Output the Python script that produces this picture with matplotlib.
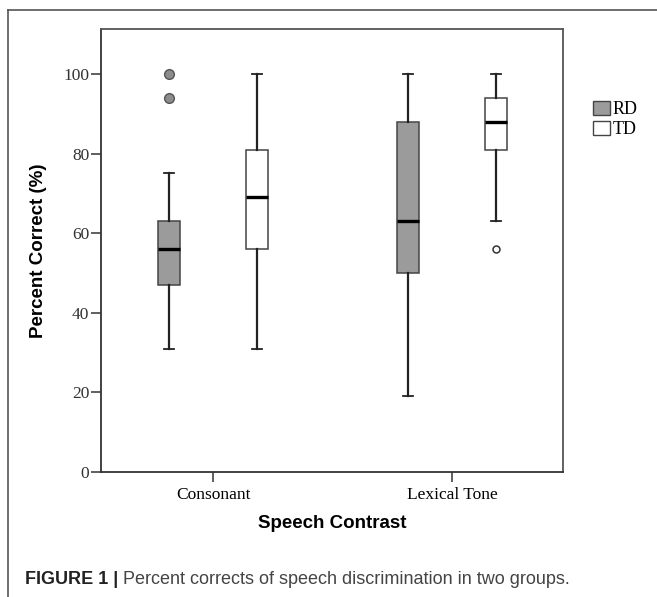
import matplotlib
matplotlib.use('Agg')
import matplotlib.pyplot as plt
from matplotlib.lines import Line2D
from matplotlib.patches import Patch

# values (percent correct)
contrasts = ['Consonant', 'Lexical Tone']
groups = ['RD', 'TD']
colors = {'RD': '#9b9b9b', 'TD': 'white'}

# per group: [consonant, lexical tone]
whislo = {'RD': [31, 19], 'TD': [31, 63]}
q1 = {'RD': [47, 50], 'TD': [56, 81]}
med = {'RD': [56, 63], 'TD': [69, 88]}
q3 = {'RD': [63, 88], 'TD': [81, 94]}
whishi = {'RD': [75, 100], 'TD': [100, 100]}
fliers = {'RD': [[100, 94], []], 'TD': [[], [56]]}

yticks = [0, 20, 40, 60, 80, 100]

fig = plt.figure(figsize=(6.57, 5.97), dpi=100)
ax = fig.add_axes([0.1537, 0.2094, 0.7032, 0.742])

offset = {'RD': -0.184, 'TD': 0.184}
edge = '#222222'
for g in groups:
    stats = []
    for i in range(len(contrasts)):
        stats.append(dict(whislo=whislo[g][i], q1=q1[g][i], med=med[g][i],
                          q3=q3[g][i], whishi=whishi[g][i], fliers=fliers[g][i]))
    pos = [i + offset[g] for i in range(len(contrasts))]
    if g == 'RD':
        fp = dict(marker='o', markerfacecolor='#8c8c8c', markeredgecolor='#555555',
                  markersize=7, markeredgewidth=1)
    else:
        fp = dict(marker='o', markerfacecolor='white', markeredgecolor='#333333',
                  markersize=5, markeredgewidth=1.1)
    ax.bxp(stats, positions=pos, widths=0.092, patch_artist=True,
           boxprops=dict(facecolor=colors[g], edgecolor='#444444', linewidth=1.1),
           medianprops=dict(color='black', linewidth=2.4),
           whiskerprops=dict(color=edge, linewidth=1.6),
           capprops=dict(color=edge, linewidth=1.3),
           flierprops=fp, capwidths=0.045, manage_ticks=False)

ax.set_xlim(-0.469, 1.464)
ax.set_ylim(0, 111.3)
ax.set_xticks(range(len(contrasts)))
ax.set_xticklabels(contrasts, family='Liberation Serif', fontsize=12.5)
ax.set_yticks(yticks)
ax.set_yticklabels([str(v) for v in yticks], family='Liberation Serif', fontsize=12.5,
                   color='#333333')
ax.tick_params(axis='both', direction='out', length=7.5, width=1.2, color='#444444')
ax.tick_params(axis='x', pad=3)
ax.tick_params(axis='y', pad=1)
for s in ax.spines.values():
    s.set_color('#555555')
    s.set_linewidth(1.3)
ax.spines['left'].set_color('#333333')
ax.spines['bottom'].set_color('#333333')

ax.set_xlabel('Speech Contrast', family='Liberation Sans', fontweight='bold',
              fontsize=13.5, labelpad=9)
ax.set_ylabel('Percent Correct (%)', family='Liberation Sans', fontweight='bold',
              fontsize=13.5, labelpad=12)

handles = [Patch(facecolor=colors[g], edgecolor='#444444', linewidth=1) for g in groups]
fig.legend(handles, groups, loc='upper left', bbox_to_anchor=(0.903, 0.831),
           frameon=False, prop=dict(family='Liberation Serif', size=13),
           handlelength=0.95, handleheight=0.85, handletextpad=0.12,
           labelspacing=0.12, borderpad=0, borderaxespad=0)

# outer frame (top and left edges)
fig.add_artist(Line2D([0.012, 1.0], [0.984, 0.984], color='#555555', linewidth=1.2))
fig.add_artist(Line2D([0.012, 0.012], [0.0, 0.984], color='#555555', linewidth=1.2))

# caption
r = fig.canvas.get_renderer()
t1 = fig.text(0.038, 0.022, 'FIGURE 1 | ', family='Liberation Sans', fontweight='bold',
              fontsize=13, color='#222222')
bb = t1.get_window_extent(renderer=r)
x2 = bb.x1 / fig.bbox.width
fig.text(x2, 0.022, 'Percent corrects of speech discrimination in two groups.',
         family='Liberation Sans', fontsize=13, color='#444444')

fig.savefig('out.png', dpi=100)
